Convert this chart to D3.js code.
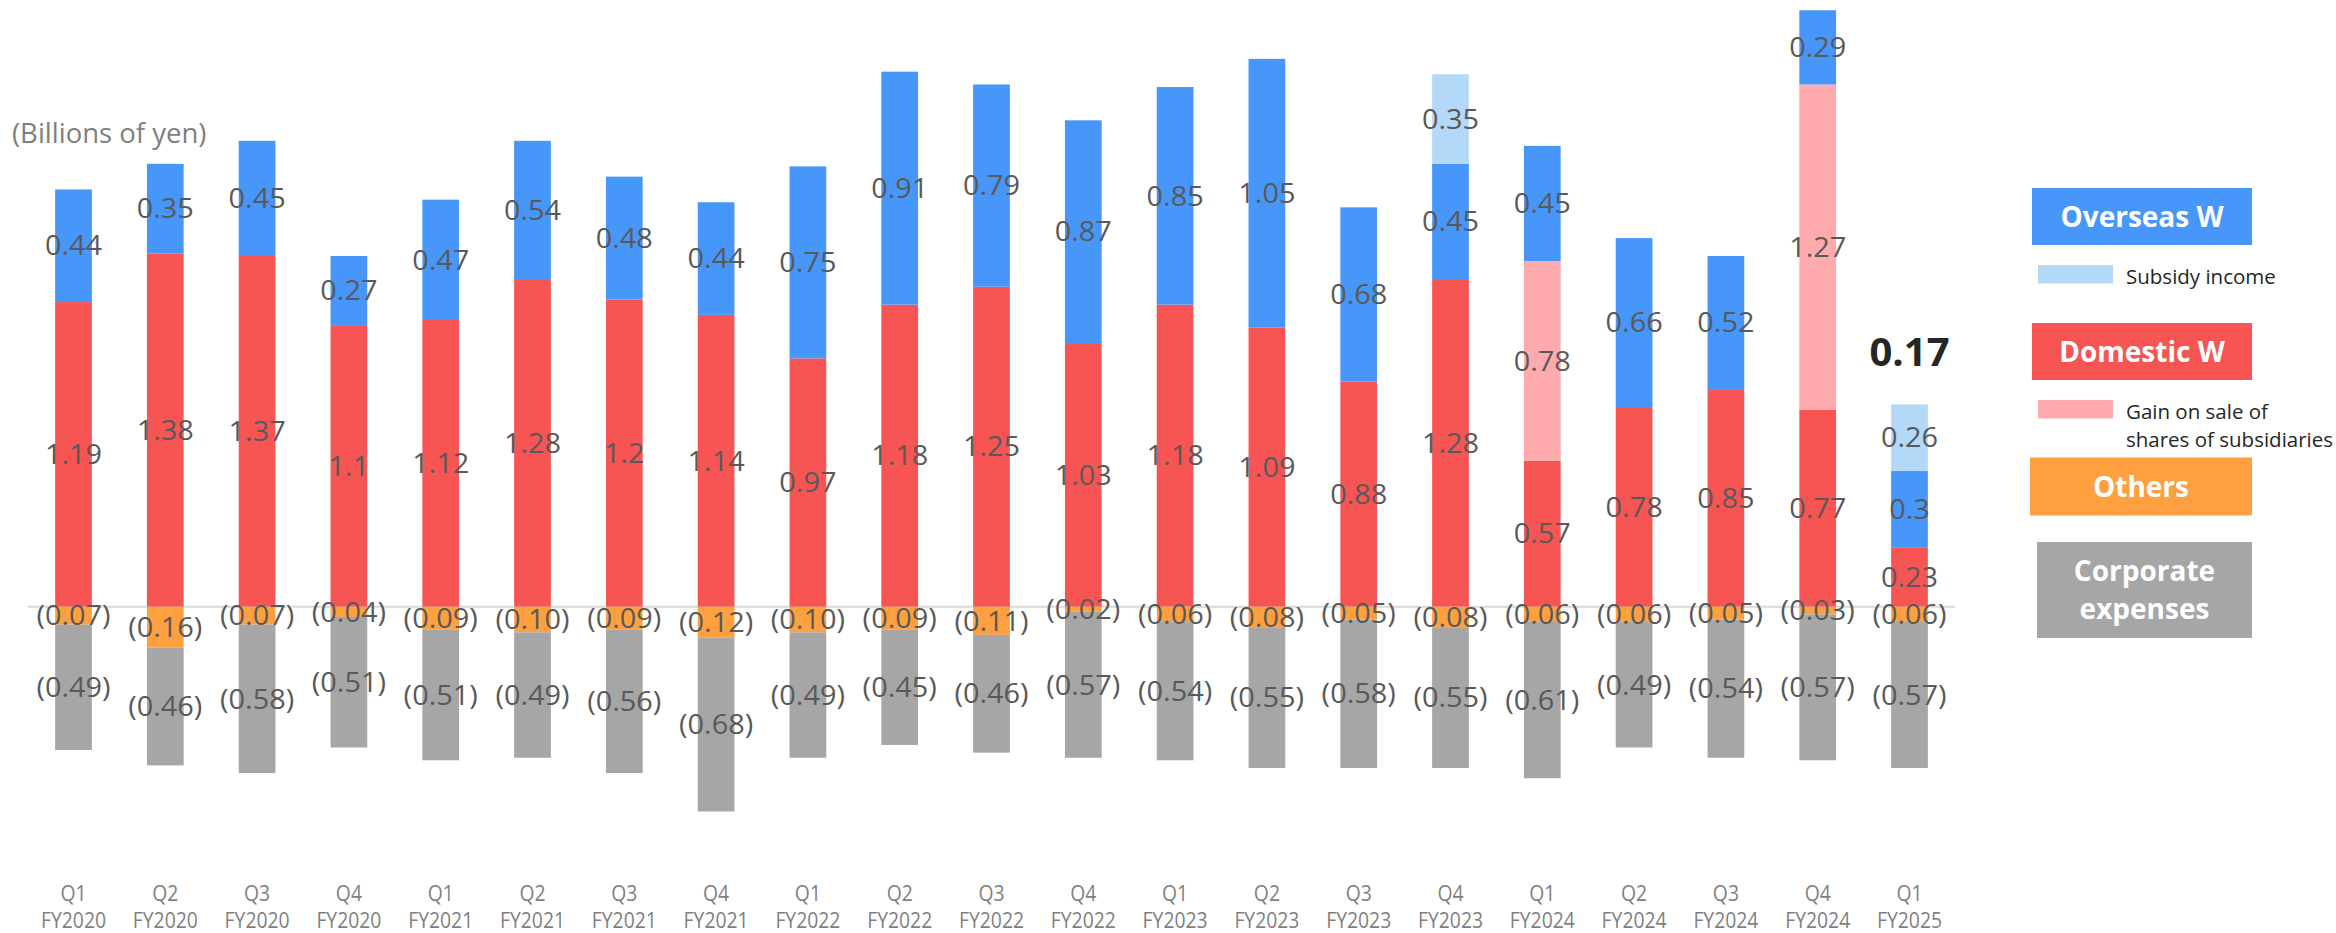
<!DOCTYPE html>
<html>
<head>
<meta charset="utf-8">
<script src="https://cdn.jsdelivr.net/npm/d3@7"></script>
<style>
  body { margin: 0; background: #fff; }
  text { font-family: "Open Sans", sans-serif; }
</style>
</head>
<body>
<div id="chart"></div>
<script>
// data (billions of yen)
var quarters = ["Q1", "Q2", "Q3", "Q4", "Q1", "Q2", "Q3", "Q4", "Q1", "Q2", "Q3", "Q4",
  "Q1", "Q2", "Q3", "Q4", "Q1", "Q2", "Q3", "Q4", "Q1"];
var years = ["FY2020", "FY2020", "FY2020", "FY2020", "FY2021", "FY2021", "FY2021", "FY2021",
  "FY2022", "FY2022", "FY2022", "FY2022", "FY2023", "FY2023", "FY2023", "FY2023",
  "FY2024", "FY2024", "FY2024", "FY2024", "FY2025"];
var domestic = [1.19, 1.38, 1.37, 1.1, 1.12, 1.28, 1.2, 1.14, 0.97, 1.18, 1.25, 1.03,
  1.18, 1.09, 0.88, 1.28, 0.57, 0.78, 0.85, 0.77, 0.23];
var gain = [0, 0, 0, 0, 0, 0, 0, 0, 0, 0, 0, 0, 0, 0, 0, 0, 0.78, 0, 0, 1.27, 0];
var overseas = [0.44, 0.35, 0.45, 0.27, 0.47, 0.54, 0.48, 0.44, 0.75, 0.91, 0.79, 0.87,
  0.85, 1.05, 0.68, 0.45, 0.45, 0.66, 0.52, 0.29, 0.3];
var subsidy = [0, 0, 0, 0, 0, 0, 0, 0, 0, 0, 0, 0, 0, 0, 0, 0.35, 0, 0, 0, 0, 0.26];
var others = [-0.07, -0.16, -0.07, -0.04, -0.09, -0.10, -0.09, -0.12, -0.10, -0.09, -0.11, -0.02,
  -0.06, -0.08, -0.05, -0.08, -0.06, -0.06, -0.05, -0.03, -0.06];
var corporate = [-0.49, -0.46, -0.58, -0.51, -0.51, -0.49, -0.56, -0.68, -0.49, -0.45, -0.46, -0.57,
  -0.54, -0.55, -0.58, -0.55, -0.61, -0.49, -0.54, -0.57, -0.57];
var latestTotal = 0.17;

var keys = ["domestic", "gain", "overseas", "subsidy", "others", "corporate"];
var colors = {
  domestic: "#F75454", gain: "#FFABAE", overseas: "#4796FA",
  subsidy: "#B3D8F8", others: "#FFA040", corporate: "#A6A6A6"
};

var data = quarters.map(function(q, i) {
  return {
    key: i, q: q, fy: years[i],
    domestic: domestic[i], gain: gain[i], overseas: overseas[i],
    subsidy: subsidy[i], others: others[i], corporate: corporate[i]
  };
});

var svgWidth = 2336;
var svgHeight = 933;

var svg = d3.select("#chart").append("svg")
  .attr("width", svgWidth)
  .attr("height", svgHeight);

// scales
var x = d3.scaleBand()
  .domain(data.map(d => d.key))
  .range([27.6, 1955.4])
  .paddingInner(0.6)
  .paddingOuter(0.3);

var y = d3.scaleLinear()
  .domain([-0.9, 2.37])
  .range([606.7 + 0.9 * 256, 0]);

var series = d3.stack()
  .keys(keys)
  .offset(d3.stackOffsetDiverging)(data);

// zero line
svg.append("line")
  .attr("x1", x.range()[0])
  .attr("x2", x.range()[1])
  .attr("y1", y(0))
  .attr("y2", y(0))
  .attr("stroke", "#d9d9d9")
  .attr("stroke-width", 2);

// bars
var groups = svg.selectAll("g.series")
  .data(series)
  .enter().append("g")
  .attr("class", "series")
  .attr("fill", d => colors[d.key]);

groups.selectAll("rect")
  .data(d => d)
  .enter().append("rect")
  .attr("x", d => x(d.data.key))
  .attr("width", x.bandwidth())
  .attr("y", d => y(Math.max(d[0], d[1])))
  .attr("height", d => Math.abs(y(d[0]) - y(d[1])));

// data labels
function fmt(v) {
  if (v < 0) return "(" + d3.format(".2f")(-v) + ")";
  return String(+v);
}

series.forEach(function(s) {
  svg.append("g").selectAll("text")
    .data(s.filter(d => d.data[s.key] !== 0))
    .enter().append("text")
    .attr("transform", d => `translate(${x(d.data.key) + x.bandwidth() / 2}, ${(y(d[0]) + y(d[1])) / 2}) scale(1.07, 1)`)
    .attr("dy", "0.36em")
    .attr("text-anchor", "middle")
    .attr("font-size", 27)
    .attr("fill", "#595959")
    .text(d => fmt(d.data[s.key]));
});

// total of latest quarter
var last = data[data.length - 1];
var lastTop = last.domestic + last.gain + last.overseas + last.subsidy;
svg.append("text")
  .attr("x", x(last.key) + x.bandwidth() / 2)
  .attr("y", y(lastTop) - 38)
  .attr("text-anchor", "middle")
  .attr("font-size", 40)
  .attr("font-weight", "bold")
  .attr("fill", "#262626")
  .text(latestTotal);

// category axis
var axisG = svg.append("g");
data.forEach(function(d) {
  var cx = x(d.key) + x.bandwidth() / 2;
  [[d.q, 901], [d.fy, 928]].forEach(function(t) {
    axisG.append("text")
      .attr("transform", `translate(${cx}, ${t[1]}) scale(0.9, 1)`)
      .attr("text-anchor", "middle")
      .attr("font-family", "Liberation Sans, sans-serif")
      .attr("font-size", 21.5)
      .attr("fill", "#7f7f7f")
      .text(t[0]);
  });
});

// unit label
svg.append("text")
  .attr("x", 12)
  .attr("y", 143)
  .attr("font-size", 27.5)
  .attr("fill", "#7f7f7f")
  .text("(Billions of yen)");

// legend
var legend = svg.append("g");

function labelBox(x0, y0, w, h, color, lines) {
  legend.append("rect")
    .attr("x", x0).attr("y", y0)
    .attr("width", w).attr("height", h)
    .attr("fill", color);
  var lh = 38;
  lines.forEach(function(line, i) {
    legend.append("text")
      .attr("x", x0 + w / 2)
      .attr("y", y0 + h / 2 + (i - (lines.length - 1) / 2) * lh)
      .attr("dy", "0.36em")
      .attr("text-anchor", "middle")
      .attr("font-size", 28)
      .attr("font-weight", "bold")
      .attr("fill", "#fff")
      .text(line);
  });
}

function swatch(x0, y0, color, lines) {
  legend.append("rect")
    .attr("x", x0).attr("y", y0)
    .attr("width", 75).attr("height", 18.5)
    .attr("fill", color);
  lines.forEach(function(line, i) {
    legend.append("text")
      .attr("x", x0 + 88)
      .attr("y", y0 + 19 + i * 28)
      .attr("font-size", 20.5)
      .attr("fill", "#262626")
      .text(line);
  });
}

labelBox(2032, 188, 220, 57, colors.overseas, ["Overseas W"]);
swatch(2038, 265, colors.subsidy, ["Subsidy income"]);
labelBox(2032, 323, 220, 57, colors.domestic, ["Domestic W"]);
swatch(2038, 400, colors.gain, ["Gain on sale of", "shares of subsidiaries"]);
labelBox(2030, 457.5, 222, 58, colors.others, ["Others"]);
labelBox(2037, 542, 215, 96, colors.corporate, ["Corporate", "expenses"]);
</script>
</body>
</html>
